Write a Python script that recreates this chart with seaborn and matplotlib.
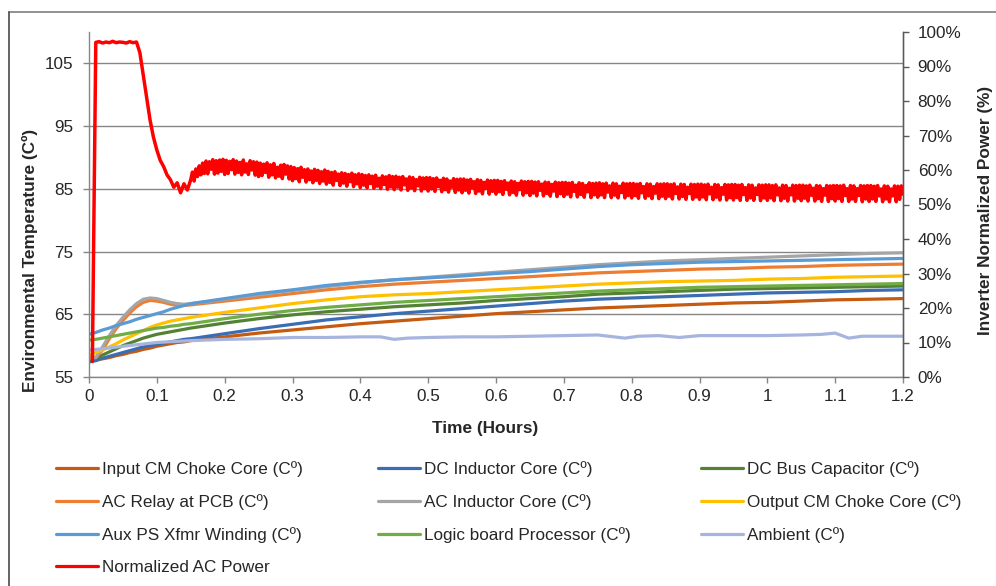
import numpy as np
import pandas as pd
import matplotlib
matplotlib.use("Agg")
import matplotlib.pyplot as plt
from matplotlib.lines import Line2D
from matplotlib.ticker import FuncFormatter
import seaborn as sns

# ---------------------------------------------------------------- data
# sample times (hours) for the temperature channels
t_temp = [0.0, 0.01, 0.02, 0.03, 0.04, 0.05, 0.06, 0.07, 0.08, 0.09,
          0.10, 0.11, 0.12, 0.13, 0.14, 0.15, 0.175, 0.2, 0.25, 0.3,
          0.35, 0.4, 0.45, 0.5, 0.55, 0.6, 0.65, 0.7, 0.75, 0.8,
          0.85, 0.9, 0.95, 1.0, 1.05, 1.1, 1.15, 1.2]

input_cm_choke = [57.6, 57.7, 57.9, 58.1, 58.4, 58.6, 58.9, 59.1, 59.4, 59.6,
                  59.9, 60.1, 60.3, 60.5, 60.6, 60.8, 61.1, 61.4, 62.0, 62.5,
                  63.0, 63.5, 63.9, 64.3, 64.7, 65.1, 65.4, 65.7, 66.0, 66.2,
                  66.4, 66.6, 66.8, 66.9, 67.1, 67.3, 67.4, 67.5]
dc_inductor = [57.4, 57.6, 58.0, 58.3, 58.6, 58.9, 59.2, 59.5, 59.8, 60.0,
               60.2, 60.4, 60.6, 60.8, 61.0, 61.1, 61.5, 61.9, 62.7, 63.4,
               64.1, 64.6, 65.1, 65.5, 65.9, 66.3, 66.7, 67.1, 67.4, 67.6,
               67.8, 68.0, 68.2, 68.4, 68.5, 68.6, 68.8, 68.9]
dc_bus_cap = [57.8, 58.0, 58.5, 59.0, 59.5, 60.0, 60.4, 60.8, 61.2, 61.5,
              61.8, 62.0, 62.2, 62.4, 62.6, 62.8, 63.2, 63.6, 64.3, 64.9,
              65.4, 65.8, 66.2, 66.5, 66.8, 67.2, 67.5, 67.8, 68.2, 68.4,
              68.6, 68.8, 69.0, 69.1, 69.2, 69.3, 69.4, 69.5]
ac_relay = [58.3, 58.1, 59.3, 61.1, 62.7, 64.0, 65.2, 66.2, 66.9, 67.2,
            67.1, 66.9, 66.6, 66.4, 66.4, 66.5, 66.8, 67.1, 67.7, 68.3,
            68.9, 69.4, 69.8, 70.1, 70.4, 70.7, 71.0, 71.3, 71.6, 71.8,
            72.0, 72.2, 72.3, 72.5, 72.6, 72.8, 72.9, 73.0]
ac_inductor = [58.0, 58.1, 59.8, 61.6, 63.2, 64.5, 65.7, 66.7, 67.4, 67.6,
               67.5, 67.2, 66.9, 66.7, 66.6, 66.7, 67.0, 67.4, 68.1, 68.8,
               69.4, 70.0, 70.5, 70.9, 71.3, 71.7, 72.1, 72.5, 72.9, 73.2,
               73.5, 73.7, 73.9, 74.1, 74.3, 74.5, 74.7, 74.8]
output_cm_choke = [58.5, 58.9, 59.3, 59.8, 60.3, 60.9, 61.4, 61.9, 62.4, 62.9,
                   63.3, 63.6, 63.9, 64.1, 64.3, 64.5, 64.9, 65.3, 66.0, 66.7,
                   67.3, 67.8, 68.1, 68.3, 68.6, 68.9, 69.2, 69.5, 69.8, 70.0,
                   70.2, 70.3, 70.4, 70.6, 70.7, 70.9, 71.0, 71.1]
aux_ps_xfmr = [61.8, 62.1, 62.5, 62.8, 63.2, 63.5, 63.8, 64.2, 64.5, 64.8,
               65.1, 65.4, 65.8, 66.1, 66.4, 66.7, 67.1, 67.5, 68.3, 68.9,
               69.6, 70.1, 70.5, 70.8, 71.1, 71.5, 71.8, 72.2, 72.6, 72.9,
               73.1, 73.3, 73.4, 73.5, 73.6, 73.7, 73.8, 73.9]
logic_board = [60.9, 61.0, 61.2, 61.4, 61.6, 61.8, 62.0, 62.2, 62.4, 62.6,
               62.8, 62.9, 63.1, 63.2, 63.4, 63.5, 63.9, 64.3, 65.0, 65.6,
               66.1, 66.5, 66.9, 67.2, 67.5, 67.8, 68.1, 68.4, 68.7, 68.9,
               69.1, 69.3, 69.4, 69.5, 69.6, 69.7, 69.8, 69.9]

# ambient is logged on its own time base
t_ambient = [0.0, 0.02, 0.05, 0.1, 0.15, 0.2, 0.25, 0.3, 0.35, 0.4,
             0.43, 0.45, 0.47, 0.5, 0.55, 0.6, 0.65, 0.7, 0.75, 0.79,
             0.81, 0.84, 0.87, 0.9, 0.95, 1.0, 1.05, 1.08, 1.1, 1.12,
             1.14, 1.2]
ambient = [59.3, 59.5, 59.9, 60.5, 60.8, 61.0, 61.1, 61.3, 61.3, 61.4,
           61.4, 61.0, 61.2, 61.3, 61.4, 61.4, 61.5, 61.6, 61.7, 61.2,
           61.5, 61.6, 61.3, 61.6, 61.6, 61.6, 61.7, 61.8, 62.0, 61.2,
           61.5, 61.5]

# normalized AC power (%): start-up logged every 0.005 h (0.005 .. 0.145 h)
power_start_step_h = 0.005
power_pct_start = [
    4.5, 97.0, 97.2, 96.8, 97.1, 96.9, 97.3, 96.9, 97.1,
    97.0, 96.8, 97.2, 96.9, 97.1, 94.0, 87.5, 81.0, 74.5, 69.5,
    65.8, 62.8, 61.0, 58.6, 57.2, 55.0, 56.3, 53.4, 56.0, 54.2,
]
# steady running logged every 0.0025 h from 0.15 h to 1.2 h
power_run_start_h = 0.15
power_run_step_h = 0.0025
power_pct_run = [
    57.2, 59.4, 56.8, 60.3, 58.1, 61.2, 58.6, 62.0, 59.0, 62.6,
    58.9, 62.4, 60.2, 63.0, 58.8, 62.7, 59.1, 62.9, 59.6, 63.1,
    58.7, 62.8, 59.0, 62.5, 60.1, 63.0, 58.8, 62.6, 59.3, 62.2,
    58.6, 62.9, 59.4, 61.8, 58.7, 62.7, 60.0, 62.4, 58.5, 62.3,
    58.1, 62.0, 58.4, 61.7, 59.3, 62.1, 57.9, 61.5, 58.6, 61.9,
    57.7, 60.8, 58.2, 61.4, 57.5, 61.6, 58.8, 61.2, 57.4, 61.0,
    56.9, 60.7, 57.5, 60.4, 56.6, 60.8, 57.9, 60.1, 56.5, 60.3,
    57.2, 59.7, 56.3, 60.2, 57.0, 59.9, 56.1, 59.5, 56.8, 60.0,
    55.9, 59.6, 56.4, 59.3, 55.6, 59.5, 57.0, 58.8, 55.5, 59.2,
    56.2, 59.0, 55.3, 58.7, 56.6, 59.1, 55.2, 58.6, 56.0, 58.9,
    54.9, 58.7, 55.6, 58.4, 54.8, 58.6, 56.1, 58.2, 54.7, 58.5,
    55.3, 57.6, 54.6, 58.3, 55.8, 58.0, 54.4, 58.4, 55.1, 58.1,
    54.3, 58.2, 55.0, 57.9, 54.2, 58.1, 55.7, 57.4, 54.1, 58.0,
    54.8, 57.8, 54.0, 57.2, 55.4, 57.9, 53.9, 57.7, 54.6, 57.8,
    53.9, 57.8, 54.5, 57.5, 53.8, 57.7, 55.2, 57.0, 53.7, 57.6,
    54.3, 57.4, 53.6, 56.8, 55.0, 57.5, 53.5, 57.3, 54.2, 57.4,
    53.4, 57.4, 54.1, 57.1, 53.3, 57.3, 54.8, 56.6, 53.2, 57.2,
    53.9, 57.0, 53.1, 56.4, 54.6, 57.1, 53.0, 56.9, 53.8, 57.0,
    53.0, 57.0, 53.7, 56.7, 52.9, 56.9, 54.4, 56.2, 52.8, 56.8,
    53.5, 56.6, 52.7, 56.1, 54.3, 56.8, 52.7, 56.6, 53.4, 56.7,
    52.6, 56.7, 53.3, 56.5, 52.5, 56.6, 54.1, 55.9, 52.5, 56.5,
    53.2, 56.4, 52.4, 55.8, 53.9, 56.5, 52.3, 56.3, 53.1, 56.4,
    52.3, 56.4, 53.0, 56.2, 52.2, 56.4, 53.8, 55.6, 52.2, 56.3,
    52.9, 56.1, 52.1, 55.5, 53.7, 56.3, 52.0, 56.1, 52.8, 56.2,
    52.1, 56.3, 52.8, 56.0, 52.0, 56.2, 53.6, 55.4, 52.0, 56.2,
    52.7, 56.0, 51.9, 55.3, 53.5, 56.2, 51.9, 56.0, 52.6, 56.1,
    51.9, 56.1, 52.6, 55.9, 51.8, 56.1, 53.4, 55.2, 51.8, 56.0,
    52.5, 55.9, 51.7, 55.2, 53.3, 56.0, 51.7, 55.9, 52.4, 56.0,
    51.7, 56.0, 52.4, 55.8, 51.6, 56.0, 53.2, 55.1, 51.6, 55.9,
    52.3, 55.8, 51.5, 55.0, 53.2, 55.9, 51.5, 55.8, 52.2, 55.9,
    51.5, 55.9, 52.2, 55.7, 51.4, 55.9, 53.1, 55.0, 51.4, 55.8,
    52.1, 55.7, 51.3, 54.9, 53.0, 55.8, 51.3, 55.7, 52.0, 55.8,
    51.3, 55.8, 52.0, 55.6, 51.2, 55.8, 52.9, 54.9, 51.2, 55.7,
    51.9, 55.6, 51.2, 54.8, 52.9, 55.7, 51.1, 55.6, 51.9, 55.7,
    51.2, 55.7, 51.9, 55.5, 51.1, 55.7, 52.8, 54.8, 51.1, 55.6,
    51.8, 55.5, 51.0, 54.7, 52.8, 55.6, 51.0, 55.5, 51.8, 55.6,
    51.1, 55.6, 51.8, 55.4, 51.0, 55.6, 52.7, 54.7, 51.0, 55.5,
    51.7, 55.4, 50.9, 54.6, 52.7, 55.5, 50.9, 55.4, 51.7, 55.5,
    51.0, 55.5, 51.7, 55.4, 50.9, 55.6, 52.6, 54.6, 50.9, 55.5,
    51.6, 55.4, 50.9, 54.6, 52.6, 55.5, 50.8, 55.4, 51.6, 55.5,
    50.9, 55.5, 51.6, 55.3, 50.9, 55.5, 52.5, 54.5, 50.8, 55.4,
    51.6, 55.3, 50.8, 54.5, 52.5, 55.4, 50.8, 55.3, 51.5, 55.4,
    53.0,
]
power_t = np.concatenate([
    np.arange(1, len(power_pct_start) + 1) * power_start_step_h,
    power_run_start_h + np.arange(len(power_pct_run)) * power_run_step_h,
]).round(4)
power_pct = power_pct_start + power_pct_run

series_names = [
    "Input CM Choke Core (Cº)", "DC Inductor Core (Cº)", "DC Bus Capacitor (Cº)",
    "AC Relay at PCB (Cº)", "AC Inductor Core (Cº)", "Output CM Choke Core (Cº)",
    "Aux PS Xfmr Winding (Cº)", "Logic board Processor (Cº)", "Ambient (Cº)",
]
series_values = [input_cm_choke, dc_inductor, dc_bus_cap, ac_relay, ac_inductor,
                 output_cm_choke, aux_ps_xfmr, logic_board, ambient]
series_times = [t_temp] * 8 + [t_ambient]
series_colors = ["#C55A11", "#3A6DB3", "#548235", "#ED7D31", "#A5A5A5",
                 "#FFC000", "#5B9BD5", "#70AD47", "#A7B4DE"]
power_name = "Normalized AC Power"
power_color = "#FF0000"

x_ticks = [0.0, 0.1, 0.2, 0.3, 0.4, 0.5, 0.6, 0.7, 0.8, 0.9, 1.0, 1.1, 1.2]
temp_ticks = [55, 65, 75, 85, 95, 105]
power_ticks = [0, 10, 20, 30, 40, 50, 60, 70, 80, 90, 100]

# ---------------------------------------------------------------- style
sns.set_theme(style="white")
plt.rcParams["font.family"] = ["Liberation Sans", "DejaVu Sans"]
text_color = "#262626"
axis_color = "#868686"
tick_size = 12.3

W, H = 996, 586
fig = plt.figure(figsize=(W / 100, H / 100), dpi=100)
fig.patch.set_facecolor("white")

left_px, right_px, top_px, bottom_px = 89, 903, 32, 377
ax = fig.add_axes([left_px / W, 1 - bottom_px / H,
                   (right_px - left_px) / W, (bottom_px - top_px) / H])

temps = pd.concat(
    [pd.DataFrame({"Time": t, "Temp": v, "Sensor": n})
     for n, v, t in zip(series_names, series_values, series_times)],
    ignore_index=True)

sns.lineplot(data=temps, x="Time", y="Temp", hue="Sensor",
             hue_order=series_names, palette=dict(zip(series_names, series_colors)),
             estimator=None, sort=False, lw=2.3, legend=False, ax=ax)

ax.set_xlim(0, 1.2)
ax.set_ylim(55, 110)
ax.set_xticks(x_ticks)
ax.set_yticks(temp_ticks)
ax.xaxis.set_major_formatter(FuncFormatter(lambda v, p: f"{v:g}"))
ax.set_xlabel("")
ax.set_ylabel("")
ax.yaxis.grid(True, color=axis_color, lw=1.0)
ax.xaxis.grid(False)
for s in ["left", "bottom", "right"]:
    ax.spines[s].set_color(axis_color)
    ax.spines[s].set_linewidth(1.0)
ax.spines["top"].set_visible(False)
ax.tick_params(axis="y", left=True, direction="out", length=4.3, width=1,
               color=axis_color, labelsize=tick_size, labelcolor=text_color, pad=7.2)
ax.tick_params(axis="x", bottom=True, direction="out", length=4.3, width=1,
               color=axis_color, labelsize=tick_size, labelcolor=text_color, pad=4.2)

# power on the secondary axis, drawn above the temperatures
ax2 = ax.twinx()
sns.lineplot(x=power_t, y=power_pct, color=power_color, lw=2.5,
             estimator=None, sort=False, legend=False, ax=ax2)
ax2.set_ylim(0, 100)
ax2.set_yticks(power_ticks)
ax2.yaxis.set_major_formatter(FuncFormatter(lambda v, p: f"{v:.0f}%"))
ax2.set_ylabel("")
ax2.grid(False)
for s in ["left", "bottom", "top"]:
    ax2.spines[s].set_visible(False)
ax2.spines["right"].set_color("#595959")
ax2.spines["right"].set_linewidth(1.0)
ax2.tick_params(axis="y", right=True, direction="out", length=4.3, width=1,
                color="#595959", labelsize=tick_size, labelcolor=text_color, pad=6.3)

# axis titles
title_kw = dict(fontsize=12.4, fontweight="bold", color=text_color,
                ha="center", va="center")
fig.text(30 / W, 1 - 260 / H, "Environmental Temperature (Cº)", rotation=90, **title_kw)
fig.text(485 / W, 1 - 428 / H, "Time (Hours)", **title_kw)
fig.text(985 / W, 1 - 210 / H, "Inverter Normalized Power (%)", rotation=90, **title_kw)

# legend: three columns laid out row by row
handles = {n: Line2D([0], [0], color=c, lw=2.3) for n, c in zip(series_names, series_colors)}
handles[power_name] = Line2D([0], [0], color=power_color, lw=2.3)
columns = [
    (56, [series_names[0], series_names[3], series_names[6], power_name]),
    (378, [series_names[1], series_names[4], series_names[7]]),
    (701, [series_names[2], series_names[5], series_names[8]]),
]
for x0, names in columns:
    leg = fig.legend([handles[n] for n in names], names, loc="upper left",
                     bbox_to_anchor=(x0 / W, 1 - 461 / H),
                     bbox_transform=fig.transFigure, frameon=False,
                     fontsize=12.3, handlelength=2.45, handletextpad=0.26,
                     labelspacing=1.0, borderpad=0, borderaxespad=0)
    for txt in leg.get_texts():
        txt.set_color(text_color)

# chart frame (top and left edges)
frame_x, frame_y = 9 / W, 1 - 12 / H
fig.add_artist(Line2D([frame_x, 1.0], [frame_y, frame_y], color="#7f7f7f", lw=1.2,
                      transform=fig.transFigure))
fig.add_artist(Line2D([frame_x, frame_x], [frame_y, 0.0], color="#4a4a4a", lw=1.2,
                      transform=fig.transFigure))

fig.savefig("out.png", dpi=100, facecolor="white")
